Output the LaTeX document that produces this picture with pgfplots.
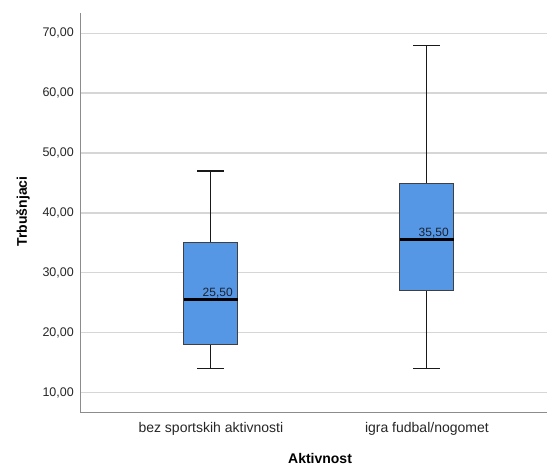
\documentclass[border=0pt]{standalone}
\usepackage{pgfplots}
\pgfplotsset{compat=1.18}
\usepackage{fontspec}
\setmainfont{Liberation Sans}
\definecolor{boxblue}{HTML}{5596E5}
\definecolor{gridgray}{HTML}{D6D6D6}
\definecolor{axisgray}{HTML}{8C8C8C}
\definecolor{labeltext}{HTML}{1A2330}

\begin{document}
\begin{tikzpicture}
\useasboundingbox (0,0) rectangle (547bp,465bp);
\begin{axis}[
  at={(80bp,53bp)}, anchor=south west,
  scale only axis, width=467bp, height=398.7bp,
  xmin=0.394, xmax=2.556,
  ymin=6.74, ymax=73.34,
  axis x line*=bottom, axis y line*=left,
  axis line style={axisgray, line width=1bp, -},
  major tick length=0pt,
  xtick={1,2},
  xticklabels={bez sportskih aktivnosti, igra fudbal/nogomet},
  ytick={10,20,30,40,50,60,70},
  ymajorgrids,
  grid style={gridgray, line width=1.4bp},
  /pgf/number format/.cd, fixed, fixed zerofill, precision=2, use comma, assume math mode=true,
  /pgfplots/.cd,
  yticklabel style={anchor=east, inner sep=0pt, xshift=-6bp, font=\fontsize{12.5bp}{14bp}\selectfont, text=black!85},
  xticklabel style={anchor=base, inner sep=0pt, yshift=-20bp, font=\fontsize{14bp}{16bp}\selectfont, text=black!85},
  every axis y label/.style={at={(axis description cs:-0.1135,0.503)}, rotate=90, anchor=base, inner sep=0pt},
  every axis x label/.style={at={(axis description cs:0.514,-0.128)}, anchor=base, inner sep=0pt},
  ylabel={\fontsize{14bp}{16bp}\selectfont\bfseries Trbušnjaci},
  xlabel={\fontsize{14bp}{16bp}\selectfont\bfseries Aktivnost},
  whisker/.style={black!90, line width=1.1bp},
  box/.style={draw=black!75, fill=boxblue, line width=0.9bp},
  median/.style={black, line width=3bp},
]
% --- bez sportskih aktivnosti: min 14, Q1 18, median 25.5, Q3 35, max 47
\addplot[whisker] coordinates {(1,35) (1,47)};
\addplot[whisker] coordinates {(1,14) (1,18)};
\addplot[whisker] coordinates {(0.9375,47) (1.0625,47)};
\addplot[whisker] coordinates {(0.9375,14) (1.0625,14)};
\addplot[box] coordinates {(0.875,18) (1.125,18) (1.125,35) (0.875,35)} -- cycle;
\addplot[median] coordinates {(0.875,25.5) (1.125,25.5)};
% --- igra fudbal/nogomet: min 14, Q1 27, median 35.5, Q3 45, max 68
\addplot[whisker] coordinates {(2,45) (2,68)};
\addplot[whisker] coordinates {(2,14) (2,27)};
\addplot[whisker] coordinates {(1.9375,68) (2.0625,68)};
\addplot[whisker] coordinates {(1.9375,14) (2.0625,14)};
\addplot[box] coordinates {(1.875,27) (2.125,27) (2.125,45) (1.875,45)} -- cycle;
\addplot[median] coordinates {(1.875,35.5) (2.125,35.5)};
% median values
\node[anchor=base east, inner sep=0pt, yshift=3bp, text=labeltext,
  font=\fontsize{12bp}{14bp}\selectfont] at (axis cs:1.102,25.5) {25,50};
\node[anchor=base east, inner sep=0pt, yshift=3bp, text=labeltext,
  font=\fontsize{12bp}{14bp}\selectfont] at (axis cs:2.102,35.5) {35,50};
\end{axis}
\end{tikzpicture}
\end{document}
